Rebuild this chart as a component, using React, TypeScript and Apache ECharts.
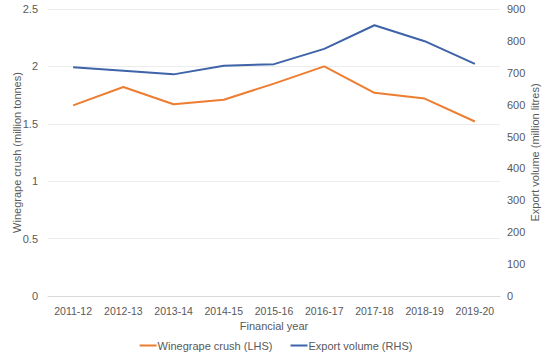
import React, { useEffect, useRef } from "react";
import * as echarts from "echarts";

const categories = ["2011-12", "2012-13", "2013-14", "2014-15", "2015-16", "2016-17", "2017-18", "2018-19", "2019-20"];
const crush = [1.66, 1.82, 1.67, 1.71, 1.85, 2.0, 1.77, 1.72, 1.52];
const exportVolume = [717, 706, 695, 722, 727, 775, 849, 799, 728];

export default function App() {
  const ref = useRef<HTMLDivElement>(null);
  useEffect(() => {
    const chart = echarts.init(ref.current!, null, { renderer: "svg" });
    const txt = "#595959";
    const font = "Arial, 'Liberation Sans', sans-serif";
    chart.setOption({
      animation: false,
      textStyle: { fontFamily: font },
      grid: { left: 48, right: 52, top: 9, bottom: 63 },
      legend: {
        bottom: 3,
        left: "center",
        itemWidth: 17,
        itemHeight: 2,
        itemGap: 18,
        icon: "rect",
        textStyle: { color: txt, fontSize: 11, fontFamily: font, padding: [0, 0, 0, -4] },
        data: ["Winegrape crush (LHS)", "Export volume (RHS)"],
      },
      xAxis: {
        type: "category",
        data: categories,
        name: "Financial year",
        nameLocation: "middle",
        nameGap: 23,
        nameTextStyle: { color: txt, fontSize: 11 },
        axisLine: { lineStyle: { color: "#d9d9d9" } },
        axisTick: { show: false },
        axisLabel: { color: txt, fontSize: 10.5, margin: 9, interval: 0 },
      },
      yAxis: [
        {
          type: "value",
          min: 0,
          max: 2.5,
          interval: 0.5,
          name: "Winegrape crush (million tonnes)",
          nameLocation: "middle",
          nameGap: 26,
          nameMoveOverlap: false,
          nameTextStyle: { color: txt, fontSize: 11 },
          axisLine: { show: false },
          axisTick: { show: false },
          axisLabel: { color: txt, fontSize: 11, margin: 10 },
          splitLine: { lineStyle: { color: "#ececec" } },
        },
        {
          type: "value",
          min: 0,
          max: 900,
          interval: 100,
          name: "Export volume (million litres)",
          nameLocation: "middle",
          nameGap: 29,
          nameMoveOverlap: false,
          nameTextStyle: { color: txt, fontSize: 11 },
          axisLine: { show: false },
          axisTick: { show: false },
          axisLabel: { color: txt, fontSize: 11, margin: 7 },
          splitLine: { show: false },
        },
      ],
      series: [
        {
          name: "Winegrape crush (LHS)",
          type: "line",
          data: crush,
          yAxisIndex: 0,
          symbol: "none",
          lineStyle: { color: "#ED7D31", width: 2 },
          itemStyle: { color: "#ED7D31" },
        },
        {
          name: "Export volume (RHS)",
          type: "line",
          data: exportVolume,
          yAxisIndex: 1,
          symbol: "none",
          lineStyle: { color: "#3F63A8", width: 2 },
          itemStyle: { color: "#3F63A8" },
        },
      ],
    });
    return () => chart.dispose();
  }, []);
  return <div ref={ref} style={{ width: 552, height: 359, position: "absolute", left: 0, top: 0, background: "#fff" }} />;
}
